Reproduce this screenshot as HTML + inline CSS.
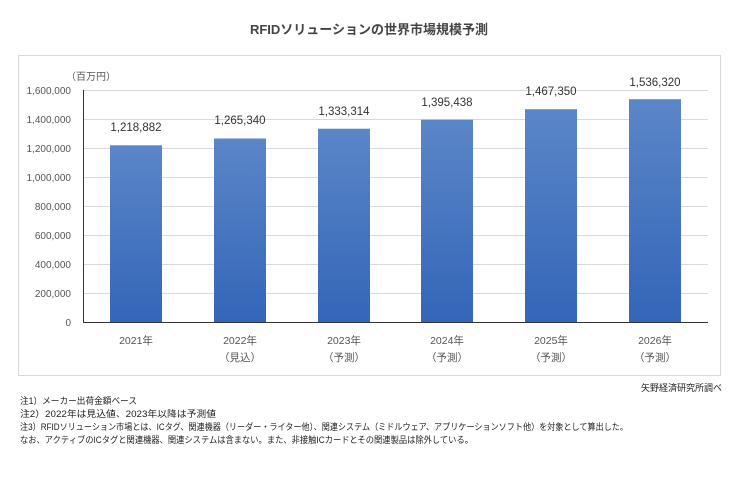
<!DOCTYPE html>
<html><head><meta charset="utf-8"><style>
body{margin:0;background:#fff;width:738px;height:494px;overflow:hidden;font-family:"Liberation Sans","Noto Sans CJK JP",sans-serif;}
</style></head><body>
<svg width="738" height="494" xmlns="http://www.w3.org/2000/svg" font-family="Liberation Sans, Noto Sans CJK JP, sans-serif">
<defs><linearGradient id="g" x1="0" y1="0" x2="0" y2="1"><stop offset="0" stop-color="#5b86c8"/><stop offset="1" stop-color="#3366b8"/></linearGradient></defs>
<text x="369" y="34" text-anchor="middle" font-size="13" font-weight="bold" fill="#444">RFIDソリューションの世界市場規模予測</text>
<rect x="18.5" y="55.5" width="702" height="320" fill="#fff" stroke="#d9d9d9"/>
<text x="66" y="80" font-size="10" fill="#555">（百万円）</text>
<g stroke="#d9d9d9" stroke-width="1">
<line x1="83" x2="708" y1="90.5" y2="90.5"/><line x1="83" x2="708" y1="119.5" y2="119.5"/><line x1="83" x2="708" y1="148.5" y2="148.5"/><line x1="83" x2="708" y1="177.5" y2="177.5"/><line x1="83" x2="708" y1="206.5" y2="206.5"/><line x1="83" x2="708" y1="235.5" y2="235.5"/><line x1="83" x2="708" y1="264.5" y2="264.5"/><line x1="83" x2="708" y1="293.5" y2="293.5"/>
</g>
<g font-size="10" fill="#555" text-anchor="end">
<text x="71" y="94">1,600,000</text><text x="71" y="123">1,400,000</text><text x="71" y="152">1,200,000</text><text x="71" y="181">1,000,000</text><text x="71" y="210">800,000</text><text x="71" y="239">600,000</text><text x="71" y="268">400,000</text><text x="71" y="297">200,000</text><text x="71" y="326">0</text>
</g>
<g fill="url(#g)">
<rect x="110" y="145.3" width="52" height="176.7"/>
<rect x="214" y="138.5" width="52" height="183.5"/>
<rect x="318" y="128.7" width="52" height="193.3"/>
<rect x="421" y="119.7" width="52" height="202.3"/>
<rect x="525" y="109.2" width="52" height="212.8"/>
<rect x="629" y="99.2" width="52" height="222.8"/>
</g>
<line x1="83.5" y1="90" x2="83.5" y2="322" stroke="#333"/>
<line x1="83" y1="322.5" x2="708" y2="322.5" stroke="#333"/>
<g font-size="11.5" fill="#333" text-anchor="middle">
<text x="136" y="131">1,218,882</text><text x="240" y="124">1,265,340</text><text x="344" y="115">1,333,314</text><text x="447" y="106">1,395,438</text><text x="551" y="95">1,467,350</text><text x="655" y="86">1,536,320</text>
</g>
<g font-size="10.5" fill="#555" text-anchor="middle">
<text x="136" y="344">2021年</text>
<text x="240" y="344">2022年</text><text x="240" y="361">（見込）</text>
<text x="344" y="344">2023年</text><text x="344" y="361">（予測）</text>
<text x="447" y="344">2024年</text><text x="447" y="361">（予測）</text>
<text x="551" y="344">2025年</text><text x="551" y="361">（予測）</text>
<text x="655" y="344">2026年</text><text x="655" y="361">（予測）</text>
</g>
<text x="722" y="391" text-anchor="end" font-size="9" fill="#222">矢野経済研究所調べ</text>
<g font-size="9" fill="#222">
<text x="20" y="404" textLength="117" lengthAdjust="spacingAndGlyphs">注1）メーカー出荷金額ベース</text>
<text x="20" y="417" textLength="196" lengthAdjust="spacingAndGlyphs">注2）2022年は見込値、2023年以降は予測値</text>
<text x="20" y="430" textLength="608" lengthAdjust="spacingAndGlyphs">注3）RFIDソリューション市場とは、ICタグ、関連機器（リーダー・ライター他）、関連システム（ミドルウェア、アプリケーションソフト他）を対象として算出した。</text>
<text x="20" y="443" textLength="453" lengthAdjust="spacingAndGlyphs">なお、アクティブのICタグと関連機器、関連システムは含まない。また、非接触ICカードとその関連製品は除外している。</text>
</g>
</svg>
</body></html>
